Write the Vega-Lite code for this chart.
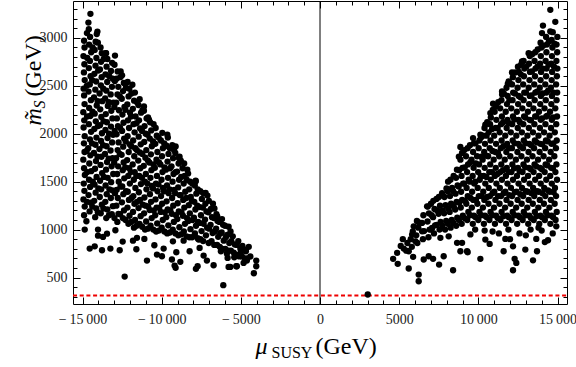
{
"$schema": "https://vega.github.io/schema/vega-lite/v6.json",
"width": 494, "height": 303,
"autosize": {"type": "none"},
"padding": {"left": 73, "top": 1, "right": 9, "bottom": 63},
"background": "#ffffff",
"config": {"view": {"stroke": "#000000", "strokeWidth": 1}, "font": "Liberation Serif"},
"datasets": {"pts": [
{"x":-14900,"y":1150},{"x":-14860,"y":1240},{"x":-14940,"y":1315},{"x":-14880,"y":1405},{"x":-14920,"y":1480},{"x":-14850,"y":1570},{"x":-14900,"y":1640},{"x":-14950,"y":1730},{"x":-14870,"y":1810},{"x":-14910,"y":1900},{"x":-14860,"y":1975},{"x":-14930,"y":2065},{"x":-14890,"y":2140},{"x":-14950,"y":2225},{"x":-14870,"y":2310},{"x":-14900,"y":2400},{"x":-14930,"y":2470},{"x":-14860,"y":2560},{"x":-14910,"y":2640},{"x":-14880,"y":2725},{"x":-14940,"y":2810},{"x":-14870,"y":2900},{"x":-14900,"y":2970},
{"x":-14550,"y":1190},{"x":-14480,"y":1280},{"x":-14620,"y":1360},{"x":-14520,"y":1445},{"x":-14590,"y":1520},{"x":-14450,"y":1610},{"x":-14570,"y":1690},{"x":-14500,"y":1775},{"x":-14640,"y":1850},{"x":-14530,"y":1940},{"x":-14460,"y":2020},{"x":-14600,"y":2100},{"x":-14510,"y":2185},{"x":-14580,"y":2270},{"x":-14470,"y":2350},{"x":-14620,"y":2440},{"x":-14540,"y":2515},{"x":-14490,"y":2600},{"x":-14600,"y":2685},{"x":-14530,"y":2760},{"x":-14450,"y":2850},{"x":-14580,"y":2930},{"x":-14520,"y":3010},{"x":-14600,"y":3090},
{"x":-14200,"y":1130},{"x":-14130,"y":1220},{"x":-14260,"y":1300},{"x":-14170,"y":1385},{"x":-14240,"y":1470},{"x":-14110,"y":1550},{"x":-14210,"y":1635},{"x":-14150,"y":1715},{"x":-14280,"y":1800},{"x":-14180,"y":1885},{"x":-14120,"y":1960},{"x":-14250,"y":2050},{"x":-14160,"y":2130},{"x":-14230,"y":2210},{"x":-14100,"y":2295},{"x":-14270,"y":2380},{"x":-14190,"y":2460},{"x":-14140,"y":2545},{"x":-14250,"y":2625},{"x":-14180,"y":2710},{"x":-14120,"y":2790},{"x":-14230,"y":2875},{"x":-14170,"y":2960},{"x":-14100,"y":3040},
{"x":-13850,"y":1170},{"x":-13780,"y":1260},{"x":-13910,"y":1340},{"x":-13820,"y":1420},{"x":-13890,"y":1510},{"x":-13760,"y":1590},{"x":-13860,"y":1675},{"x":-13800,"y":1760},{"x":-13930,"y":1840},{"x":-13830,"y":1925},{"x":-13770,"y":2005},{"x":-13900,"y":2090},{"x":-13810,"y":2175},{"x":-13880,"y":2255},{"x":-13750,"y":2340},{"x":-13920,"y":2420},{"x":-13840,"y":2505},{"x":-13790,"y":2590},{"x":-13900,"y":2670},{"x":-13830,"y":2750},{"x":-13780,"y":2840},{"x":-13860,"y":2900},
{"x":-13500,"y":1120},{"x":-13430,"y":1210},{"x":-13560,"y":1290},{"x":-13470,"y":1370},{"x":-13540,"y":1460},{"x":-13410,"y":1540},{"x":-13510,"y":1625},{"x":-13450,"y":1705},{"x":-13580,"y":1790},{"x":-13480,"y":1870},{"x":-13420,"y":1955},{"x":-13550,"y":2040},{"x":-13460,"y":2120},{"x":-13530,"y":2205},{"x":-13400,"y":2290},{"x":-13570,"y":2370},{"x":-13490,"y":2450},{"x":-13440,"y":2540},{"x":-13550,"y":2620},{"x":-13480,"y":2700},{"x":-13430,"y":2780},{"x":-13510,"y":2840},
{"x":-13150,"y":1160},{"x":-13080,"y":1245},{"x":-13210,"y":1330},{"x":-13120,"y":1410},{"x":-13190,"y":1495},{"x":-13060,"y":1580},{"x":-13160,"y":1660},{"x":-13100,"y":1745},{"x":-13230,"y":1825},{"x":-13130,"y":1910},{"x":-13070,"y":1990},{"x":-13200,"y":2075},{"x":-13110,"y":2160},{"x":-13180,"y":2240},{"x":-13050,"y":2325},{"x":-13220,"y":2410},{"x":-13140,"y":2490},{"x":-13090,"y":2575},{"x":-13200,"y":2655},{"x":-13130,"y":2740},
{"x":-12800,"y":1080},{"x":-12730,"y":1165},{"x":-12860,"y":1250},{"x":-12770,"y":1330},{"x":-12840,"y":1415},{"x":-12710,"y":1500},{"x":-12810,"y":1580},{"x":-12750,"y":1660},{"x":-12880,"y":1745},{"x":-12780,"y":1830},{"x":-12720,"y":1910},{"x":-12850,"y":1995},{"x":-12760,"y":2080},{"x":-12830,"y":2160},{"x":-12700,"y":2245},{"x":-12870,"y":2325},{"x":-12790,"y":2410},{"x":-12740,"y":2490},{"x":-12850,"y":2575},{"x":-12780,"y":2650},
{"x":-12450,"y":1120},{"x":-12380,"y":1200},{"x":-12510,"y":1285},{"x":-12420,"y":1370},{"x":-12490,"y":1450},{"x":-12360,"y":1535},{"x":-12460,"y":1620},{"x":-12400,"y":1700},{"x":-12530,"y":1780},{"x":-12430,"y":1865},{"x":-12370,"y":1950},{"x":-12500,"y":2030},{"x":-12410,"y":2115},{"x":-12480,"y":2200},{"x":-12350,"y":2280},{"x":-12520,"y":2365},{"x":-12440,"y":2445},{"x":-12390,"y":2530},{"x":-12500,"y":2610},
{"x":-12100,"y":1060},{"x":-12030,"y":1145},{"x":-12160,"y":1230},{"x":-12070,"y":1310},{"x":-12140,"y":1395},{"x":-12010,"y":1480},{"x":-12110,"y":1560},{"x":-12050,"y":1640},{"x":-12180,"y":1725},{"x":-12080,"y":1810},{"x":-12020,"y":1890},{"x":-12150,"y":1975},{"x":-12060,"y":2060},{"x":-12130,"y":2140},{"x":-12000,"y":2220},{"x":-12170,"y":2305},{"x":-12090,"y":2390},{"x":-12040,"y":2470},{"x":-12150,"y":2540},
{"x":-11750,"y":1020},{"x":-11680,"y":1100},{"x":-11810,"y":1185},{"x":-11720,"y":1270},{"x":-11790,"y":1350},{"x":-11660,"y":1435},{"x":-11760,"y":1520},{"x":-11700,"y":1600},{"x":-11830,"y":1680},{"x":-11730,"y":1765},{"x":-11670,"y":1850},{"x":-11800,"y":1930},{"x":-11710,"y":2015},{"x":-11780,"y":2100},{"x":-11650,"y":2180},{"x":-11820,"y":2260},{"x":-11740,"y":2345},{"x":-11690,"y":2430},
{"x":-11400,"y":1060},{"x":-11330,"y":1140},{"x":-11460,"y":1225},{"x":-11370,"y":1310},{"x":-11440,"y":1390},{"x":-11310,"y":1475},{"x":-11410,"y":1560},{"x":-11350,"y":1640},{"x":-11480,"y":1720},{"x":-11380,"y":1805},{"x":-11320,"y":1890},{"x":-11450,"y":1970},{"x":-11360,"y":2055},{"x":-11430,"y":2140},{"x":-11300,"y":2220},{"x":-11470,"y":2300},{"x":-11390,"y":2360},
{"x":-11050,"y":1000},{"x":-10980,"y":1085},{"x":-11110,"y":1170},{"x":-11020,"y":1250},{"x":-11090,"y":1335},{"x":-10960,"y":1420},{"x":-11060,"y":1500},{"x":-11000,"y":1580},{"x":-11130,"y":1665},{"x":-11030,"y":1750},{"x":-10970,"y":1830},{"x":-11100,"y":1915},{"x":-11010,"y":2000},{"x":-11080,"y":2080},{"x":-10950,"y":2160},{"x":-11120,"y":2240},
{"x":-10700,"y":1040},{"x":-10630,"y":1120},{"x":-10760,"y":1205},{"x":-10670,"y":1290},{"x":-10740,"y":1370},{"x":-10610,"y":1455},{"x":-10710,"y":1540},{"x":-10650,"y":1620},{"x":-10780,"y":1700},{"x":-10680,"y":1785},{"x":-10620,"y":1870},{"x":-10750,"y":1950},{"x":-10660,"y":2035},{"x":-10730,"y":2120},
{"x":-10350,"y":980},{"x":-10280,"y":1065},{"x":-10410,"y":1150},{"x":-10320,"y":1230},{"x":-10390,"y":1315},{"x":-10260,"y":1400},{"x":-10360,"y":1480},{"x":-10300,"y":1560},{"x":-10430,"y":1645},{"x":-10330,"y":1730},{"x":-10270,"y":1810},{"x":-10400,"y":1895},{"x":-10310,"y":1980},{"x":-10380,"y":2060},
{"x":-10000,"y":1020},{"x":-9930,"y":1100},{"x":-10060,"y":1185},{"x":-9970,"y":1270},{"x":-10040,"y":1350},{"x":-9910,"y":1435},{"x":-10010,"y":1520},{"x":-9950,"y":1600},{"x":-10080,"y":1680},{"x":-9980,"y":1765},{"x":-9920,"y":1850},{"x":-10050,"y":1930},{"x":-9960,"y":2010},
{"x":-9650,"y":960},{"x":-9580,"y":1045},{"x":-9710,"y":1130},{"x":-9620,"y":1210},{"x":-9690,"y":1295},{"x":-9560,"y":1380},{"x":-9660,"y":1460},{"x":-9600,"y":1540},{"x":-9730,"y":1625},{"x":-9630,"y":1710},{"x":-9570,"y":1790},{"x":-9700,"y":1875},{"x":-9610,"y":1960},
{"x":-9300,"y":1000},{"x":-9230,"y":1080},{"x":-9360,"y":1165},{"x":-9270,"y":1250},{"x":-9340,"y":1330},{"x":-9210,"y":1415},{"x":-9310,"y":1500},{"x":-9250,"y":1580},{"x":-9380,"y":1660},{"x":-9280,"y":1745},{"x":-9220,"y":1830},{"x":-9330,"y":1880},
{"x":-8950,"y":940},{"x":-8880,"y":1025},{"x":-9010,"y":1110},{"x":-8920,"y":1190},{"x":-8990,"y":1275},{"x":-8860,"y":1360},{"x":-8960,"y":1440},{"x":-8900,"y":1520},{"x":-9030,"y":1605},{"x":-8930,"y":1690},{"x":-8870,"y":1760},
{"x":-8600,"y":980},{"x":-8530,"y":1060},{"x":-8660,"y":1145},{"x":-8570,"y":1230},{"x":-8640,"y":1310},{"x":-8510,"y":1395},{"x":-8610,"y":1480},{"x":-8550,"y":1560},{"x":-8680,"y":1640},{"x":-8580,"y":1690},
{"x":-8250,"y":920},{"x":-8180,"y":1005},{"x":-8310,"y":1090},{"x":-8220,"y":1170},{"x":-8290,"y":1255},{"x":-8160,"y":1340},{"x":-8260,"y":1420},{"x":-8200,"y":1500},{"x":-8330,"y":1585},
{"x":-7900,"y":960},{"x":-7830,"y":1040},{"x":-7960,"y":1125},{"x":-7870,"y":1210},{"x":-7940,"y":1290},{"x":-7810,"y":1375},{"x":-7910,"y":1460},{"x":-7850,"y":1510},
{"x":-7550,"y":900},{"x":-7480,"y":985},{"x":-7610,"y":1070},{"x":-7520,"y":1150},{"x":-7590,"y":1235},{"x":-7460,"y":1320},{"x":-7560,"y":1400},
{"x":-7200,"y":940},{"x":-7130,"y":1020},{"x":-7260,"y":1105},{"x":-7170,"y":1190},{"x":-7240,"y":1270},{"x":-7110,"y":1355},
{"x":-6850,"y":880},{"x":-6780,"y":965},{"x":-6910,"y":1050},{"x":-6820,"y":1130},{"x":-6890,"y":1215},{"x":-6760,"y":1270},
{"x":-6500,"y":840},{"x":-6430,"y":925},{"x":-6560,"y":1010},{"x":-6470,"y":1090},{"x":-6540,"y":1160},
{"x":-6150,"y":800},{"x":-6080,"y":885},{"x":-6210,"y":970},{"x":-6120,"y":1050},{"x":-6190,"y":1110},
{"x":-5800,"y":780},{"x":-5730,"y":860},{"x":-5860,"y":945},{"x":-5770,"y":1030},
{"x":-5450,"y":760},{"x":-5380,"y":845},{"x":-5510,"y":930},
{"x":-5100,"y":720},{"x":-5030,"y":800},{"x":-5160,"y":880},
{"x":-4750,"y":700},{"x":-4690,"y":790},{"x":-4400,"y":720},
{"x":-14725,"y":1290},{"x":-14700,"y":1600},{"x":-14740,"y":1820},{"x":-14710,"y":2180},{"x":-14730,"y":2500},{"x":-14700,"y":2790},{"x":-14720,"y":3050},
{"x":-14380,"y":1240},{"x":-14350,"y":1500},{"x":-14400,"y":1900},{"x":-14370,"y":2230},{"x":-14390,"y":2560},{"x":-14360,"y":2900},
{"x":-14030,"y":1180},{"x":-14000,"y":1430},{"x":-14050,"y":1760},{"x":-14020,"y":2080},{"x":-14040,"y":2340},{"x":-14010,"y":2660},{"x":-14030,"y":2950},
{"x":-13680,"y":1220},{"x":-13650,"y":1550},{"x":-13700,"y":1880},{"x":-13670,"y":2130},{"x":-13690,"y":2470},{"x":-13660,"y":2780},
{"x":-13330,"y":1150},{"x":-13300,"y":1420},{"x":-13350,"y":1740},{"x":-13320,"y":2000},{"x":-13340,"y":2330},{"x":-13310,"y":2600},
{"x":-12980,"y":1120},{"x":-12950,"y":1380},{"x":-13000,"y":1700},{"x":-12970,"y":2030},{"x":-12990,"y":2280},{"x":-12960,"y":2550},{"x":-12980,"y":2720},
{"x":-12630,"y":1160},{"x":-12600,"y":1450},{"x":-12650,"y":1790},{"x":-12620,"y":2060},{"x":-12640,"y":2390},{"x":-12610,"y":2590},
{"x":-12280,"y":1100},{"x":-12250,"y":1400},{"x":-12300,"y":1650},{"x":-12270,"y":1920},{"x":-12290,"y":2250},{"x":-12260,"y":2480},
{"x":-11930,"y":1080},{"x":-11900,"y":1330},{"x":-11950,"y":1600},{"x":-11920,"y":1870},{"x":-11940,"y":2180},{"x":-11910,"y":2420},
{"x":-11580,"y":1040},{"x":-11550,"y":1290},{"x":-11600,"y":1560},{"x":-11570,"y":1830},{"x":-11590,"y":2110},{"x":-11560,"y":2330},
{"x":-11230,"y":1030},{"x":-11200,"y":1260},{"x":-11250,"y":1540},{"x":-11220,"y":1790},{"x":-11240,"y":2030},{"x":-11210,"y":2250},
{"x":-10880,"y":1010},{"x":-10850,"y":1240},{"x":-10900,"y":1480},{"x":-10870,"y":1720},{"x":-10890,"y":1990},{"x":-10860,"y":2170},
{"x":-10530,"y":1000},{"x":-10500,"y":1200},{"x":-10550,"y":1430},{"x":-10520,"y":1680},{"x":-10540,"y":1920},{"x":-10510,"y":2100},
{"x":-10180,"y":990},{"x":-10150,"y":1230},{"x":-10200,"y":1470},{"x":-10170,"y":1700},{"x":-10190,"y":1960},
{"x":-9830,"y":980},{"x":-9800,"y":1180},{"x":-9850,"y":1400},{"x":-9820,"y":1650},{"x":-9840,"y":1900},
{"x":-9480,"y":970},{"x":-9450,"y":1200},{"x":-9500,"y":1420},{"x":-9470,"y":1640},{"x":-9490,"y":1850},
{"x":-9130,"y":960},{"x":-9100,"y":1150},{"x":-9150,"y":1380},{"x":-9120,"y":1600},{"x":-9140,"y":1800},
{"x":-8780,"y":950},{"x":-8750,"y":1180},{"x":-8800,"y":1360},{"x":-8770,"y":1550},{"x":-8790,"y":1720},
{"x":-8430,"y":930},{"x":-8400,"y":1120},{"x":-8450,"y":1330},{"x":-8420,"y":1520},
{"x":-8080,"y":920},{"x":-8050,"y":1100},{"x":-8100,"y":1300},{"x":-8070,"y":1480},
{"x":-7730,"y":910},{"x":-7700,"y":1080},{"x":-7750,"y":1250},{"x":-7720,"y":1420},
{"x":-7380,"y":880},{"x":-7350,"y":1060},{"x":-7400,"y":1230},{"x":-7370,"y":1380},
{"x":-7030,"y":860},{"x":-7000,"y":1010},{"x":-7050,"y":1180},{"x":-7020,"y":1300},
{"x":-6680,"y":840},{"x":-6650,"y":980},{"x":-6700,"y":1120},{"x":-6670,"y":1220},
{"x":-6330,"y":820},{"x":-6300,"y":960},{"x":-6350,"y":1080},
{"x":-5980,"y":800},{"x":-5950,"y":920},{"x":-6000,"y":1040},
{"x":-5630,"y":780},{"x":-5600,"y":880},{"x":-5650,"y":980},
{"x":-5280,"y":740},{"x":-5250,"y":840},{"x":-4930,"y":720},{"x":-4900,"y":830},{"x":-4580,"y":700},
{"x":-14500,"y":3251},{"x":-14627,"y":3160},{"x":-12948,"y":2816},{"x":-14059,"y":3066},{"x":-13535,"y":2841},{"x":-12588,"y":2650},{"x":-11850,"y":2511},{"x":-11118,"y":2285},{"x":-10803,"y":2146},{"x":-9642,"y":1990},{"x":-9118,"y":1868},{"x":-8910,"y":1747},{"x":-8380,"y":1625},{"x":-7856,"y":1503},{"x":-7225,"y":1383},{"x":-6487,"y":1139},
{"x":-14860,"y":1000},{"x":-14753,"y":1087},{"x":-14545,"y":802},{"x":-14229,"y":826},{"x":-14020,"y":1000},{"x":-14020,"y":937},{"x":-13768,"y":785},{"x":-13705,"y":924},{"x":-13453,"y":958},{"x":-13239,"y":802},{"x":-12923,"y":993},{"x":-12651,"y":785},{"x":-12462,"y":875},{"x":-12336,"y":510},{"x":-11812,"y":885},{"x":-11598,"y":795},{"x":-11560,"y":914},{"x":-11093,"y":903},{"x":-10929,"y":677},{"x":-10462,"y":837},{"x":-10298,"y":740},{"x":-9982,"y":722},{"x":-9875,"y":802},{"x":-9352,"y":688},{"x":-9289,"y":878},{"x":-9182,"y":625},{"x":-9118,"y":601},{"x":-9074,"y":764},{"x":-8822,"y":664},{"x":-8614,"y":885},{"x":-8234,"y":774},{"x":-7837,"y":591},{"x":-7730,"y":618},{"x":-7667,"y":896},{"x":-7604,"y":809},{"x":-7351,"y":729},{"x":-7143,"y":677},{"x":-6720,"y":628},{"x":-6259,"y":774},{"x":-5881,"y":750},{"x":-5774,"y":611},{"x":-5288,"y":618},{"x":-4026,"y":677},{"x":-4026,"y":618},{"x":-4177,"y":545},{"x":-4619,"y":677},{"x":-4682,"y":774},{"x":-5250,"y":618},{"x":-5666,"y":611},{"x":-5414,"y":712},{"x":-6108,"y":420},{"x":-5837,"y":705},{"x":-4827,"y":653},{"x":-5000,"y":760},{"x":-4500,"y":820},
{"x":3016,"y":323},
{"x":4619,"y":695},{"x":4871,"y":757},{"x":4909,"y":643},{"x":5288,"y":802},{"x":5604,"y":594},{"x":5604,"y":774},{"x":5818,"y":948},{"x":5881,"y":716},{"x":6026,"y":878},{"x":6234,"y":1076},{"x":6234,"y":531},{"x":6234,"y":461},{"x":6550,"y":688},{"x":6764,"y":1243},{"x":6865,"y":722},{"x":7143,"y":695},{"x":7522,"y":635},{"x":7812,"y":722},{"x":8405,"y":576},{"x":8866,"y":774},{"x":9288,"y":774},{"x":5919,"y":1034},{"x":6449,"y":982},{"x":7080,"y":1018},{"x":7604,"y":914},{"x":8127,"y":930},{"x":8657,"y":862},
{"x":5100,"y":830},{"x":5230,"y":900},{"x":5450,"y":780},{"x":5520,"y":860},{"x":5800,"y":820},{"x":5730,"y":900},{"x":5860,"y":980},
{"x":6150,"y":860},{"x":6080,"y":940},{"x":6210,"y":1020},{"x":6120,"y":1090},
{"x":6500,"y":900},{"x":6570,"y":985},{"x":6440,"y":1070},{"x":6530,"y":1150},
{"x":6850,"y":920},{"x":6920,"y":1000},{"x":6790,"y":1085},{"x":6880,"y":1170},{"x":6810,"y":1240},
{"x":7200,"y":960},{"x":7270,"y":1045},{"x":7140,"y":1130},{"x":7230,"y":1215},{"x":7160,"y":1300},
{"x":7550,"y":1000},{"x":7620,"y":1080},{"x":7490,"y":1165},{"x":7580,"y":1250},{"x":7510,"y":1340},
{"x":7900,"y":1000},{"x":7970,"y":1090},{"x":7840,"y":1170},{"x":7930,"y":1255},{"x":7860,"y":1340},{"x":7990,"y":1430},
{"x":8250,"y":1020},{"x":8320,"y":1100},{"x":8190,"y":1185},{"x":8280,"y":1270},{"x":8210,"y":1350},{"x":8340,"y":1435},{"x":8240,"y":1520},
{"x":8600,"y":1040},{"x":8670,"y":1125},{"x":8540,"y":1210},{"x":8630,"y":1290},{"x":8560,"y":1375},{"x":8690,"y":1460},{"x":8590,"y":1540},{"x":8650,"y":1625},
{"x":8950,"y":1060},{"x":9020,"y":1145},{"x":8890,"y":1230},{"x":8980,"y":1310},{"x":8910,"y":1395},{"x":9040,"y":1480},{"x":8940,"y":1560},{"x":9000,"y":1645},{"x":8870,"y":1730},{"x":8970,"y":1800},
{"x":9300,"y":1100},{"x":9370,"y":1185},{"x":9240,"y":1270},{"x":9330,"y":1350},{"x":9260,"y":1435},{"x":9390,"y":1520},{"x":9290,"y":1600},{"x":9350,"y":1680},{"x":9220,"y":1765},{"x":9320,"y":1850},
{"x":9650,"y":1060},{"x":9720,"y":1145},{"x":9590,"y":1230},{"x":9680,"y":1310},{"x":9610,"y":1395},{"x":9740,"y":1480},{"x":9640,"y":1560},{"x":9700,"y":1645},{"x":9570,"y":1730},{"x":9670,"y":1810},{"x":9720,"y":1900},
{"x":10000,"y":1100},{"x":10070,"y":1185},{"x":9940,"y":1270},{"x":10030,"y":1350},{"x":9960,"y":1435},{"x":10090,"y":1520},{"x":9990,"y":1600},{"x":10050,"y":1680},{"x":9920,"y":1765},{"x":10020,"y":1850},{"x":10070,"y":1930},
{"x":10350,"y":1060},{"x":10420,"y":1145},{"x":10290,"y":1230},{"x":10380,"y":1310},{"x":10310,"y":1395},{"x":10440,"y":1480},{"x":10340,"y":1560},{"x":10400,"y":1645},{"x":10270,"y":1730},{"x":10370,"y":1810},{"x":10420,"y":1895},{"x":10300,"y":1980},{"x":10390,"y":2060},
{"x":10700,"y":1100},{"x":10770,"y":1185},{"x":10640,"y":1270},{"x":10730,"y":1350},{"x":10660,"y":1435},{"x":10790,"y":1520},{"x":10690,"y":1600},{"x":10750,"y":1680},{"x":10620,"y":1765},{"x":10720,"y":1850},{"x":10770,"y":1930},{"x":10650,"y":2015},{"x":10740,"y":2100},{"x":10790,"y":2170},
{"x":11050,"y":1060},{"x":11120,"y":1145},{"x":10990,"y":1230},{"x":11080,"y":1310},{"x":11010,"y":1395},{"x":11140,"y":1480},{"x":11040,"y":1560},{"x":11100,"y":1645},{"x":10970,"y":1730},{"x":11070,"y":1810},{"x":11120,"y":1895},{"x":11000,"y":1980},{"x":11090,"y":2060},{"x":11140,"y":2145},{"x":11030,"y":2230},{"x":11110,"y":2290},
{"x":11400,"y":1100},{"x":11470,"y":1185},{"x":11340,"y":1270},{"x":11430,"y":1350},{"x":11360,"y":1435},{"x":11490,"y":1520},{"x":11390,"y":1600},{"x":11450,"y":1680},{"x":11320,"y":1765},{"x":11420,"y":1850},{"x":11470,"y":1930},{"x":11350,"y":2015},{"x":11440,"y":2100},{"x":11490,"y":2180},{"x":11380,"y":2265},{"x":11460,"y":2350},{"x":11500,"y":2410},
{"x":11750,"y":1060},{"x":11820,"y":1145},{"x":11690,"y":1230},{"x":11780,"y":1310},{"x":11710,"y":1395},{"x":11840,"y":1480},{"x":11740,"y":1560},{"x":11800,"y":1645},{"x":11670,"y":1730},{"x":11770,"y":1810},{"x":11820,"y":1895},{"x":11700,"y":1980},{"x":11790,"y":2060},{"x":11840,"y":2145},{"x":11730,"y":2230},{"x":11810,"y":2310},{"x":11850,"y":2395},{"x":11780,"y":2480},{"x":11860,"y":2520},
{"x":12100,"y":1100},{"x":12170,"y":1185},{"x":12040,"y":1270},{"x":12130,"y":1350},{"x":12060,"y":1435},{"x":12190,"y":1520},{"x":12090,"y":1600},{"x":12150,"y":1680},{"x":12020,"y":1765},{"x":12120,"y":1850},{"x":12170,"y":1930},{"x":12050,"y":2015},{"x":12140,"y":2100},{"x":12190,"y":2180},{"x":12080,"y":2265},{"x":12160,"y":2350},{"x":12200,"y":2430},{"x":12130,"y":2515},{"x":12180,"y":2590},
{"x":12450,"y":1060},{"x":12520,"y":1145},{"x":12390,"y":1230},{"x":12480,"y":1310},{"x":12410,"y":1395},{"x":12540,"y":1480},{"x":12440,"y":1560},{"x":12500,"y":1645},{"x":12370,"y":1730},{"x":12470,"y":1810},{"x":12520,"y":1895},{"x":12400,"y":1980},{"x":12490,"y":2060},{"x":12540,"y":2145},{"x":12430,"y":2230},{"x":12510,"y":2310},{"x":12550,"y":2395},{"x":12480,"y":2480},{"x":12530,"y":2560},{"x":12560,"y":2645},{"x":12500,"y":2700},
{"x":12800,"y":1100},{"x":12870,"y":1185},{"x":12740,"y":1270},{"x":12830,"y":1350},{"x":12760,"y":1435},{"x":12890,"y":1520},{"x":12790,"y":1600},{"x":12850,"y":1680},{"x":12720,"y":1765},{"x":12820,"y":1850},{"x":12870,"y":1930},{"x":12750,"y":2015},{"x":12840,"y":2100},{"x":12890,"y":2180},{"x":12780,"y":2265},{"x":12860,"y":2350},{"x":12900,"y":2430},{"x":12830,"y":2515},{"x":12880,"y":2600},{"x":12910,"y":2680},{"x":12860,"y":2760},
{"x":13150,"y":1060},{"x":13220,"y":1145},{"x":13090,"y":1230},{"x":13180,"y":1310},{"x":13110,"y":1395},{"x":13240,"y":1480},{"x":13140,"y":1560},{"x":13200,"y":1645},{"x":13070,"y":1730},{"x":13170,"y":1810},{"x":13220,"y":1895},{"x":13100,"y":1980},{"x":13190,"y":2060},{"x":13240,"y":2145},{"x":13130,"y":2230},{"x":13210,"y":2310},{"x":13250,"y":2395},{"x":13180,"y":2480},{"x":13230,"y":2560},{"x":13260,"y":2645},{"x":13200,"y":2730},{"x":13250,"y":2810},
{"x":13500,"y":1100},{"x":13570,"y":1185},{"x":13440,"y":1270},{"x":13530,"y":1350},{"x":13460,"y":1435},{"x":13590,"y":1520},{"x":13490,"y":1600},{"x":13550,"y":1680},{"x":13420,"y":1765},{"x":13520,"y":1850},{"x":13570,"y":1930},{"x":13450,"y":2015},{"x":13540,"y":2100},{"x":13590,"y":2180},{"x":13480,"y":2265},{"x":13560,"y":2350},{"x":13600,"y":2430},{"x":13530,"y":2515},{"x":13580,"y":2600},{"x":13610,"y":2680},{"x":13550,"y":2760},{"x":13600,"y":2850},
{"x":13850,"y":1060},{"x":13920,"y":1145},{"x":13790,"y":1230},{"x":13880,"y":1310},{"x":13810,"y":1395},{"x":13940,"y":1480},{"x":13840,"y":1560},{"x":13900,"y":1645},{"x":13770,"y":1730},{"x":13870,"y":1810},{"x":13920,"y":1895},{"x":13800,"y":1980},{"x":13890,"y":2060},{"x":13940,"y":2145},{"x":13830,"y":2230},{"x":13910,"y":2310},{"x":13950,"y":2395},{"x":13880,"y":2480},{"x":13930,"y":2560},{"x":13960,"y":2645},{"x":13900,"y":2730},{"x":13950,"y":2810},{"x":13980,"y":2900},{"x":13930,"y":2950},
{"x":14200,"y":1100},{"x":14270,"y":1185},{"x":14140,"y":1270},{"x":14230,"y":1350},{"x":14160,"y":1435},{"x":14290,"y":1520},{"x":14190,"y":1600},{"x":14250,"y":1680},{"x":14120,"y":1765},{"x":14220,"y":1850},{"x":14270,"y":1930},{"x":14150,"y":2015},{"x":14240,"y":2100},{"x":14290,"y":2180},{"x":14180,"y":2265},{"x":14260,"y":2350},{"x":14300,"y":2430},{"x":14230,"y":2515},{"x":14280,"y":2600},{"x":14310,"y":2680},{"x":14250,"y":2760},{"x":14300,"y":2850},{"x":14330,"y":2930},{"x":14280,"y":3010},
{"x":14550,"y":1060},{"x":14620,"y":1145},{"x":14490,"y":1230},{"x":14580,"y":1310},{"x":14510,"y":1395},{"x":14640,"y":1480},{"x":14540,"y":1560},{"x":14600,"y":1645},{"x":14470,"y":1730},{"x":14570,"y":1810},{"x":14620,"y":1895},{"x":14500,"y":1980},{"x":14590,"y":2060},{"x":14640,"y":2145},{"x":14530,"y":2230},{"x":14610,"y":2310},{"x":14650,"y":2395},{"x":14580,"y":2480},{"x":14630,"y":2560},{"x":14660,"y":2645},{"x":14600,"y":2730},{"x":14650,"y":2810},{"x":14680,"y":2900},{"x":14630,"y":2980},{"x":14700,"y":3060},
{"x":14880,"y":1100},{"x":14950,"y":1185},{"x":14820,"y":1270},{"x":14910,"y":1350},{"x":14840,"y":1435},{"x":14970,"y":1520},{"x":14870,"y":1600},{"x":14930,"y":1680},{"x":14800,"y":1765},{"x":14900,"y":1850},{"x":14950,"y":1930},{"x":14830,"y":2015},{"x":14920,"y":2100},{"x":14970,"y":2180},{"x":14860,"y":2265},{"x":14940,"y":2350},{"x":14980,"y":2430},{"x":14910,"y":2515},{"x":14960,"y":2600},{"x":14990,"y":2680},{"x":14930,"y":2760},{"x":14980,"y":2850},{"x":14940,"y":2930},{"x":14990,"y":3010},
{"x":7025,"y":1000},{"x":7050,"y":1150},{"x":7010,"y":1270},
{"x":7375,"y":1050},{"x":7400,"y":1200},{"x":7360,"y":1320},
{"x":7725,"y":1040},{"x":7750,"y":1200},{"x":7710,"y":1380},
{"x":8075,"y":1060},{"x":8100,"y":1220},{"x":8060,"y":1400},{"x":8090,"y":1500},
{"x":8425,"y":1070},{"x":8450,"y":1240},{"x":8410,"y":1400},{"x":8440,"y":1560},
{"x":8775,"y":1100},{"x":8800,"y":1280},{"x":8760,"y":1450},{"x":8790,"y":1620},{"x":8770,"y":1760},
{"x":9125,"y":1120},{"x":9150,"y":1300},{"x":9110,"y":1480},{"x":9140,"y":1650},{"x":9120,"y":1830},
{"x":9475,"y":1150},{"x":9500,"y":1330},{"x":9460,"y":1500},{"x":9490,"y":1700},{"x":9470,"y":1880},
{"x":9825,"y":1130},{"x":9850,"y":1310},{"x":9810,"y":1500},{"x":9840,"y":1690},{"x":9820,"y":1900},
{"x":10175,"y":1150},{"x":10200,"y":1350},{"x":10160,"y":1560},{"x":10190,"y":1760},{"x":10170,"y":1960},
{"x":10525,"y":1130},{"x":10550,"y":1340},{"x":10510,"y":1550},{"x":10540,"y":1770},{"x":10520,"y":1980},{"x":10560,"y":2120},
{"x":10875,"y":1150},{"x":10900,"y":1380},{"x":10860,"y":1600},{"x":10890,"y":1820},{"x":10870,"y":2050},{"x":10910,"y":2250},
{"x":11225,"y":1120},{"x":11250,"y":1350},{"x":11210,"y":1580},{"x":11240,"y":1800},{"x":11220,"y":2060},{"x":11260,"y":2330},
{"x":11575,"y":1140},{"x":11600,"y":1380},{"x":11560,"y":1620},{"x":11590,"y":1870},{"x":11570,"y":2120},{"x":11610,"y":2420},
{"x":11925,"y":1130},{"x":11950,"y":1360},{"x":11910,"y":1600},{"x":11940,"y":1850},{"x":11920,"y":2110},{"x":11960,"y":2350},{"x":11980,"y":2530},
{"x":12275,"y":1150},{"x":12300,"y":1390},{"x":12260,"y":1640},{"x":12290,"y":1900},{"x":12270,"y":2150},{"x":12310,"y":2420},{"x":12330,"y":2640},
{"x":12625,"y":1130},{"x":12650,"y":1370},{"x":12610,"y":1610},{"x":12640,"y":1870},{"x":12620,"y":2120},{"x":12660,"y":2380},{"x":12680,"y":2620},{"x":12700,"y":2720},
{"x":12975,"y":1150},{"x":13000,"y":1400},{"x":12960,"y":1650},{"x":12990,"y":1900},{"x":12970,"y":2170},{"x":13010,"y":2430},{"x":13030,"y":2700},
{"x":13325,"y":1120},{"x":13350,"y":1380},{"x":13310,"y":1630},{"x":13340,"y":1880},{"x":13320,"y":2140},{"x":13360,"y":2400},{"x":13380,"y":2650},{"x":13400,"y":2830},
{"x":13675,"y":1140},{"x":13700,"y":1400},{"x":13660,"y":1660},{"x":13690,"y":1910},{"x":13670,"y":2180},{"x":13710,"y":2440},{"x":13730,"y":2700},{"x":13750,"y":2880},
{"x":14025,"y":1130},{"x":14050,"y":1380},{"x":14010,"y":1630},{"x":14040,"y":1890},{"x":14020,"y":2160},{"x":14060,"y":2420},{"x":14080,"y":2680},{"x":14100,"y":2920},
{"x":14375,"y":1150},{"x":14400,"y":1410},{"x":14360,"y":1670},{"x":14390,"y":1920},{"x":14370,"y":2190},{"x":14410,"y":2450},{"x":14430,"y":2720},{"x":14450,"y":2960},
{"x":14725,"y":1130},{"x":14750,"y":1390},{"x":14710,"y":1640},{"x":14740,"y":1900},{"x":14720,"y":2170},{"x":14760,"y":2430},{"x":14780,"y":2700},{"x":14800,"y":2940},
{"x":14545,"y":3293},{"x":14861,"y":3168},{"x":14082,"y":3129},{"x":14020,"y":3050},{"x":14545,"y":3067},{"x":13176,"y":2841},
{"x":8866,"y":1862},{"x":9667,"y":1955},{"x":10128,"y":1990},{"x":10443,"y":2094},{"x":10759,"y":2216},{"x":10929,"y":2313},{"x":11498,"y":2441},{"x":11914,"y":2546},{"x":12128,"y":2639},{"x":12759,"y":2754},
{"x":9326,"y":764},{"x":10128,"y":695},{"x":11598,"y":774},{"x":12191,"y":826},{"x":12292,"y":695},{"x":12399,"y":653},{"x":12191,"y":576},{"x":12967,"y":792},{"x":13453,"y":680},{"x":13705,"y":774},{"x":13661,"y":903},{"x":14399,"y":889},{"x":14924,"y":1034},{"x":11706,"y":903},{"x":10715,"y":851},{"x":10443,"y":896},{"x":8973,"y":862},{"x":9800,"y":1000},{"x":10900,"y":980},{"x":11900,"y":1000},{"x":12600,"y":960},{"x":13300,"y":1000},{"x":14000,"y":990},{"x":14700,"y":960},{"x":9500,"y":950},{"x":11300,"y":960},{"x":13000,"y":940},{"x":12000,"y":900},{"x":14200,"y":870},{"x":10400,"y":990},{"x":13800,"y":1020}
]},
"layer": [
{
"data": {"values": [{"x": 0}]},
"mark": {"type": "rule", "color": "#000000", "strokeWidth": 1},
"encoding": {
"x": {"field": "x", "type": "quantitative", "scale": {"domain": [-15600, 15600], "nice": false, "zero": false},
 "axis": {"orient": "top", "values": [-15000,-14000,-13000,-12000,-11000,-10000,-9000,-8000,-7000,-6000,-5000,-4000,-3000,-2000,-1000,0,1000,2000,3000,4000,5000,6000,7000,8000,9000,10000,11000,12000,13000,14000,15000],
 "domain": false, "grid": false, "labels": false, "tickColor": "#000000", "tickWidth": 1,
 "tickSize": {"condition": {"test": "datum.value % 5000 === 0", "value": -7}, "value": -4},
 "title": "SUSY", "titleFont": "Liberation Serif", "titleFontSize": 16, "titleFontWeight": "normal", "titleColor": "#000000",
 "titleX": 198, "titleY": 356, "titleAlign": "left", "titleBaseline": "alphabetic", "titleAngle": 0}},
"y": {"datum": 224, "type": "quantitative", "scale": {"domain": [224, 3385], "nice": false, "zero": false},
 "axis": {"orient": "right", "values": [300,400,500,600,700,800,900,1000,1100,1200,1300,1400,1500,1600,1700,1800,1900,2000,2100,2200,2300,2400,2500,2600,2700,2800,2900,3000,3100,3200,3300],
 "domain": false, "grid": false, "labels": false, "tickColor": "#000000", "tickWidth": 1,
 "tickSize": {"condition": {"test": "datum.value % 500 === 0", "value": -7}, "value": -4},
 "title": "S", "titleFont": "Liberation Serif", "titleFontSize": 16, "titleFontStyle": "italic", "titleFontWeight": "normal", "titleColor": "#000000",
 "titleX": -523, "titleY": 107, "titleAlign": "left", "titleBaseline": "alphabetic", "titleAngle": -90}},
"y2": {"datum": 3385}
}
},
{
"data": {"values": [{"y": 312}]},
"mark": {"type": "rule", "color": "#ee0000", "strokeWidth": 2, "strokeDash": [4, 2.7]},
"encoding": {
"y": {"field": "y", "type": "quantitative", "scale": {"domain": [224, 3385], "nice": false, "zero": false},
 "axis": {"orient": "left", "domain": false, "grid": false, "labels": false, "ticks": false,
 "title": "(GeV)", "titleFont": "Liberation Serif", "titleFontSize": 24, "titleFontWeight": "normal", "titleColor": "#000000",
 "titleX": -33, "titleY": 95, "titleAlign": "left", "titleBaseline": "alphabetic", "titleAngle": -90}},
"x": {"datum": -15600, "type": "quantitative", "scale": {"domain": [-15600, 15600], "nice": false, "zero": false},
 "axis": {"orient": "bottom", "domain": false, "grid": false, "labels": false, "ticks": false,
 "title": "(GeV)", "titleFont": "Liberation Serif", "titleFontSize": 24, "titleFontWeight": "normal", "titleColor": "#000000",
 "titleX": 242, "titleY": 49, "titleAlign": "left", "titleBaseline": "alphabetic", "titleAngle": 0}},
"x2": {"datum": 15600}
}
},
{
"data": {"name": "pts"},
"mark": {"type": "circle", "size": 40, "color": "#000000", "opacity": 1},
"encoding": {
"x": {"field": "x", "type": "quantitative", "scale": {"domain": [-15600, 15600], "nice": false, "zero": false},
 "axis": {"orient": "bottom", "values": [-15000,-14000,-13000,-12000,-11000,-10000,-9000,-8000,-7000,-6000,-5000,-4000,-3000,-2000,-1000,0,1000,2000,3000,4000,5000,6000,7000,8000,9000,10000,11000,12000,13000,14000,15000],
 "domain": false, "grid": false, "tickColor": "#000000", "tickWidth": 1,
 "tickSize": {"condition": {"test": "datum.value % 5000 === 0", "value": -7}, "value": -4},
 "labelExpr": "datum.value % 5000 === 0 ? (datum.value < 0 ? '−\u2009' : '') + (abs(datum.value) >= 10000 ? floor(abs(datum.value) / 1000) + '\u2009000' : abs(datum.value) + '') : ''",
 "labelFont": "Liberation Serif", "labelFontSize": 14, "labelColor": "#1a1a1a", "labelPadding": 15, "labelOverlap": false, "labelFlush": false, "labelBound": false,
 "title": "μ", "titleFont": "Liberation Serif", "titleFontSize": 24, "titleFontStyle": "italic", "titleFontWeight": "normal", "titleColor": "#000000",
 "titleX": 182, "titleY": 49, "titleAlign": "left", "titleBaseline": "alphabetic", "titleAngle": 0}},
"y": {"field": "y", "type": "quantitative", "scale": {"domain": [224, 3385], "nice": false, "zero": false},
 "axis": {"orient": "left", "values": [300,400,500,600,700,800,900,1000,1100,1200,1300,1400,1500,1600,1700,1800,1900,2000,2100,2200,2300,2400,2500,2600,2700,2800,2900,3000,3100,3200,3300],
 "domain": false, "grid": false, "tickColor": "#000000", "tickWidth": 1,
 "tickSize": {"condition": {"test": "datum.value % 500 === 0", "value": -7}, "value": -4},
 "labelExpr": "datum.value % 500 === 0 ? datum.value + '' : ''",
 "labelFont": "Liberation Serif", "labelFontSize": 14, "labelColor": "#1a1a1a", "labelPadding": 13, "labelOverlap": false, "labelFlush": false, "labelBound": false,
 "title": "m\u0303", "titleFont": "Liberation Serif", "titleFontSize": 24, "titleFontStyle": "italic", "titleFontWeight": "normal", "titleColor": "#000000",
 "titleX": -33, "titleY": 124, "titleAlign": "left", "titleBaseline": "alphabetic", "titleAngle": -90}}
}
}
],
"resolve": {"axis": {"x": "independent", "y": "independent"}}
}
